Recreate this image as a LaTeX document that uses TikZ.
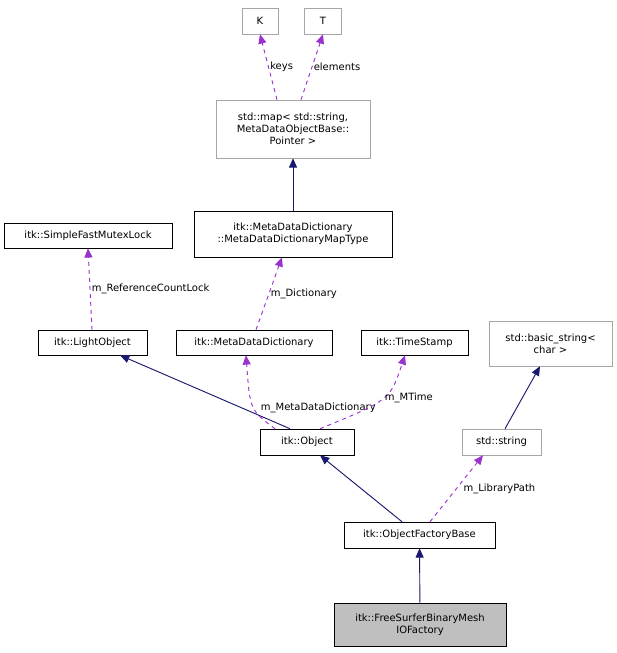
\documentclass[tikz,border=0pt]{standalone}
\usepackage{fontspec}
\setmainfont{DejaVu Sans}
\usetikzlibrary{arrows.meta}
\definecolor{navy}{HTML}{191970}
\definecolor{purp}{HTML}{9A32CD}
\begin{document}
\begin{tikzpicture}[x=0.75pt,y=-0.75pt,
  box/.style={draw=black,fill=white,inner sep=0pt,font=\fontsize{7.5}{9}\selectfont,align=center},
  gbox/.style={box,draw=gray!70},
  inh/.style={navy,line width=0.7pt,-{Triangle[length=7pt,width=6pt]}},
  use/.style={purp,line width=0.7pt,dashed,-{Triangle[length=7pt,width=6pt]}},
  lab/.style={font=\fontsize{7.5}{9}\selectfont,text=black,inner sep=1pt}]
\useasboundingbox (0,0) rectangle (617,653);
\node[gbox,minimum width=36*0.75pt,minimum height=26*0.75pt] (K) at (260,21) {K};
\node[gbox,minimum width=37*0.75pt,minimum height=26*0.75pt] (T) at (323,21) {T};
\node[gbox,minimum width=154*0.75pt,minimum height=58*0.75pt] (map) at (293,129) {std::map< std::string,\\MetaDataObjectBase::\\Pointer >};
\node[box,minimum width=198*0.75pt,minimum height=46*0.75pt] (mt) at (293,234) {itk::MetaDataDictionary\\::MetaDataDictionaryMapType};
\node[box,minimum width=168*0.75pt,minimum height=25*0.75pt] (mx) at (88,235.5) {itk::SimpleFastMutexLock};
\node[box,minimum width=109*0.75pt,minimum height=25*0.75pt] (lo) at (92.5,342.5) {itk::LightObject};
\node[box,minimum width=156*0.75pt,minimum height=25*0.75pt] (md) at (254,342.5) {itk::MetaDataDictionary};
\node[box,minimum width=107*0.75pt,minimum height=25*0.75pt] (ts) at (414.5,342.5) {itk::TimeStamp};
\node[gbox,minimum width=123*0.75pt,minimum height=45*0.75pt] (bs) at (550.5,343.5) {std::basic\_string<\\char >};
\node[box,minimum width=94*0.75pt,minimum height=26*0.75pt] (ob) at (307,442) {itk::Object};
\node[gbox,minimum width=79*0.75pt,minimum height=26*0.75pt] (ss) at (501.5,442) {std::string};
\node[box,minimum width=151*0.75pt,minimum height=26*0.75pt] (of) at (419.5,535) {itk::ObjectFactoryBase};
\node[box,fill=gray!50,minimum width=172*0.75pt,minimum height=43*0.75pt] (fs) at (420,624.5) {itk::FreeSurferBinaryMesh\\IOFactory};
\draw[use] (map.north -| 277,0) -- node[lab,right,pos=0.5]{keys} (K.south);
\draw[use] (map.north -| 301,0) -- node[lab,right,pos=0.5]{elements} (T.south);
\draw[inh] (mt) -- (map);
\draw[use] (md.north -| 256,0) -- node[lab,right,pos=0.5]{m\_Dictionary} (mt.south -| 282,0);
\draw[use] (lo.north -| 92,0) -- node[lab,right,pos=0.5]{m\_ReferenceCountLock} (mx.south);
\draw[inh] (ob.north -| 290,0) -- (lo.south -| 120,0);
\draw[use] (ob.north -| 275,0) .. controls (250,410) .. node[lab,right,pos=0.45,xshift=4pt]{m\_MetaDataDictionary} (md.south -| 246,0);
\draw[use] (ob.north -| 320,0) .. controls (390,400) .. node[lab,right,pos=0.5]{m\_MTime} (ts.south -| 405,0);
\draw[inh] (ss.north -| 505,0) -- (bs.south -| 540,0);
\draw[inh] (of.north -| 402,0) -- (ob.south -| 320,0);
\draw[use] (of.north -| 430,0) -- node[lab,right,pos=0.5,xshift=4pt]{m\_LibraryPath} (ss.south -| 483,0);
\draw[inh] (fs) -- (of);
\end{tikzpicture}
\end{document}
